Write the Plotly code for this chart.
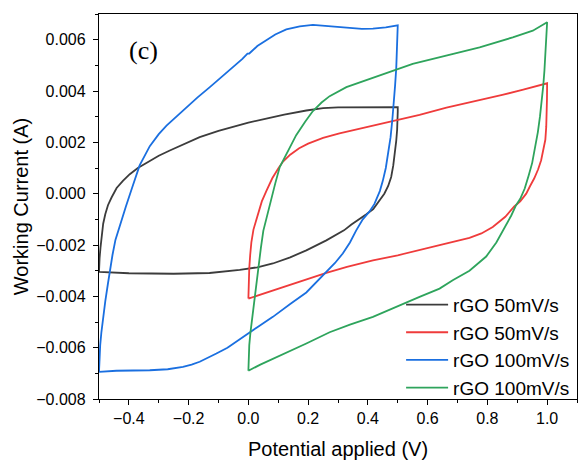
import plotly.graph_objects as go

# ---- data (Potential V, Current A) ----
black_x = [-0.5, -0.4995, -0.498, -0.495, -0.491, -0.486, -0.479, -0.47, -0.458, -0.441, -0.42, -0.397, -0.37, -0.341, -0.3, -0.263,
           -0.2, -0.163, -0.1, -0.051, 0.0, 0.06, 0.12, 0.194, 0.25, 0.3, 0.4, 0.5,
           0.5, 0.4995, 0.498, 0.495, 0.491, 0.485, 0.478, 0.468, 0.455, 0.439, 0.418, 0.395, 0.372, 0.345, 0.32, 0.29, 0.261,
           0.194, 0.14, 0.082, 0.03, -0.029, -0.13, -0.25, -0.4, -0.5]
black_y = [-0.00305, -0.0028, -0.0025, -0.0021, -0.0016, -0.00117, -0.0008, -0.00045, -0.00015, 0.00022, 0.0005, 0.00076, 0.001, 0.0012, 0.00148, 0.00168,
           0.002, 0.0022, 0.00245, 0.00262, 0.00277, 0.00292, 0.00308, 0.00324, 0.00333, 0.00336, 0.00337, 0.00337,
           0.0032, 0.0029, 0.0025, 0.00207, 0.0016, 0.0011, 0.00065, 0.0003, 0.0, -0.00026, -0.0006, -0.0008, -0.00097, -0.0012, -0.00143, -0.00163, -0.00182,
           -0.00221, -0.00248, -0.00272, -0.00287, -0.00297, -0.00309, -0.00312, -0.0031, -0.00305]

red_x = [0.0, 0.0005, 0.0015, 0.003, 0.006, 0.01, 0.017, 0.025, 0.034, 0.045, 0.06, 0.08, 0.1, 0.116, 0.14, 0.17, 0.2, 0.25, 0.305,
         0.4, 0.5, 0.573, 0.663, 0.774, 0.85, 0.92, 0.96, 1.0,
         0.9995, 0.999, 0.997, 0.994, 0.988, 0.98, 0.97, 0.957, 0.943, 0.93, 0.91, 0.89, 0.86, 0.818, 0.78, 0.74, 0.64, 0.573,
         0.5, 0.417, 0.33, 0.261, 0.194, 0.14, 0.082, 0.04, 0.0]
red_y = [-0.00409, -0.0037, -0.0033, -0.0029, -0.0024, -0.0019, -0.0014, -0.0011, -0.0007, -0.0003, 0.0001, 0.0006, 0.00098, 0.00125, 0.00152, 0.00177, 0.00195, 0.00217, 0.00235,
         0.0026, 0.00287, 0.00307, 0.00335, 0.00363, 0.00385, 0.00405, 0.00418, 0.0043,
         0.0037, 0.0031, 0.0026, 0.0021, 0.0017, 0.0013, 0.00095, 0.0006, 0.0003, 0.0, -0.0003, -0.0005, -0.0009, -0.0013, -0.00155, -0.00172, -0.002, -0.0022,
         -0.0024, -0.0026, -0.00285, -0.00309, -0.00335, -0.00355, -0.00378, -0.00394, -0.00409]

blue_x = [-0.5, -0.4985, -0.496, -0.492, -0.486, -0.479, -0.47, -0.464, -0.455, -0.445, -0.43, -0.41, -0.39, -0.364, -0.33, -0.3, -0.274,
          -0.24, -0.207, -0.17, -0.129, -0.09, -0.051, -0.02, -0.003, 0.003, 0.03, 0.06, 0.09, 0.127, 0.172, 0.216, 0.28, 0.33, 0.38, 0.417, 0.46, 0.5,
          0.498, 0.495, 0.491, 0.487, 0.482, 0.476, 0.469, 0.46, 0.45, 0.44, 0.422, 0.405, 0.383, 0.361, 0.34, 0.316, 0.29, 0.261, 0.23, 0.194,
          0.14, 0.082, 0.03, -0.029, -0.07, -0.107, -0.14, -0.163, -0.19, -0.219, -0.27, -0.33, -0.442, -0.5]
blue_y = [-0.00694, -0.0064, -0.0059, -0.0054, -0.0048, -0.0042, -0.0035, -0.003, -0.0024, -0.0018, -0.0012, -0.0005, 0.0002, 0.0011, 0.00185, 0.00232, 0.00265,
          0.00302, 0.00337, 0.00375, 0.00415, 0.00454, 0.00493, 0.00525, 0.00546, 0.00546, 0.00575, 0.00597, 0.0062, 0.0064, 0.00652, 0.00658, 0.00652, 0.00645, 0.00642, 0.00643, 0.00648, 0.00656,
          0.0058, 0.0049, 0.0042, 0.0035, 0.0029, 0.0022, 0.0016, 0.001, 0.0005, 0.0001, -0.0004, -0.0007, -0.001, -0.00143, -0.0019, -0.00233, -0.0027, -0.00305, -0.0034, -0.00385,
          -0.0043, -0.0048, -0.0052, -0.00568, -0.006, -0.00623, -0.00643, -0.00655, -0.00666, -0.00675, -0.00684, -0.00688, -0.0069, -0.00694]

green_x = [0.0, 0.001, 0.003, 0.007, 0.012, 0.017, 0.022, 0.028, 0.035, 0.042, 0.05, 0.06, 0.075, 0.09, 0.105, 0.13, 0.16, 0.19, 0.216, 0.245, 0.272,
           0.328, 0.439, 0.5, 0.55, 0.662, 0.774, 0.885, 0.952, 1.0,
           0.998, 0.995, 0.991, 0.987, 0.982, 0.976, 0.969, 0.96, 0.95, 0.938, 0.925, 0.91, 0.896, 0.88, 0.863, 0.83, 0.796, 0.74, 0.684, 0.64, 0.573,
           0.5, 0.417, 0.34, 0.272, 0.194, 0.14, 0.082, 0.04, 0.0]
green_y = [-0.0069, -0.0064, -0.0059, -0.0054, -0.0049, -0.0045, -0.00402, -0.0034, -0.00275, -0.0021, -0.00145, -0.00097, -0.0003, 0.0004, 0.00104, 0.0016, 0.00228, 0.0028, 0.00322, 0.00355, 0.0038,
           0.00415, 0.0046, 0.00485, 0.00506, 0.00538, 0.0057, 0.00609, 0.00635, 0.00668,
           0.0061, 0.0055, 0.0048, 0.0042, 0.0036, 0.003, 0.0024, 0.0018, 0.0012, 0.0007, 0.0002, -0.0002, -0.00045, -0.00085, -0.0012, -0.0019, -0.00245, -0.003, -0.00337, -0.0037, -0.00402,
           -0.0044, -0.0048, -0.0051, -0.0054, -0.00584, -0.00612, -0.00642, -0.00666, -0.0069]

names = ["rGO 50mV/s", "rGO 50mV/s", "rGO 100mV/s", "rGO 100mV/s"]
colors = ["#3c3c3c", "#ef3b3b", "#1a6fe0", "#2ea45c"]

x_ticks = [-0.4, -0.2, 0.0, 0.2, 0.4, 0.6, 0.8, 1.0]
y_ticks = [-0.008, -0.006, -0.004, -0.002, 0.0, 0.002, 0.004, 0.006]

series = [(black_x, black_y), (red_x, red_y), (blue_x, blue_y), (green_x, green_y)]

fig = go.Figure()
for (xs, ys), nm, c in zip(series, names, colors):
    fig.add_trace(go.Scatter(x=xs, y=ys, mode="lines", name=nm,
                             line=dict(color=c, width=1.8)))

axis_common = dict(showline=True, linecolor="black", linewidth=1.3, mirror=True,
                   ticks="outside", ticklen=5, tickwidth=1.3, tickcolor="black",
                   showgrid=False, zeroline=False,
                   tickfont=dict(family="Liberation Sans, Arial", size=16, color="black"))

fig.update_xaxes(range=[-0.5, 1.1], tickvals=x_ticks, tickformat=".1f",
                 minor=dict(dtick=0.1, tick0=0, ticks="outside", ticklen=3, tickwidth=1.3, tickcolor="black"),
                 title=dict(text="Potential applied (V)", font=dict(family="Liberation Sans, Arial", size=20, color="black"), standoff=15),
                 **axis_common)
fig.update_yaxes(range=[-0.008, 0.007], tickvals=y_ticks, tickformat=".3f",
                 minor=dict(dtick=0.001, tick0=0, ticks="outside", ticklen=3, tickwidth=1.3, tickcolor="black"),
                 title=dict(text="Working Current (A)", font=dict(family="Liberation Sans, Arial", size=20, color="black"), standoff=2),
                 ticklabelstandoff=4,
                 **axis_common)

fig.add_annotation(x=-0.352, y=0.00558, xref="x", yref="y", text="(c)", showarrow=False,
                   font=dict(family="Liberation Serif, Times New Roman", size=26, color="black"))

fig.update_layout(width=578, height=464, margin=dict(l=99, r=1, t=14, b=65),
                  plot_bgcolor="white", paper_bgcolor="white",
                  legend=dict(x=0.632, y=-0.02, xanchor="left", yanchor="bottom", itemwidth=42,
                              bgcolor="rgba(0,0,0,0)", borderwidth=0, tracegroupgap=0,
                              font=dict(family="Liberation Sans, Arial", size=19, color="black")),
                  showlegend=True)

fig.write_html("out.html")
